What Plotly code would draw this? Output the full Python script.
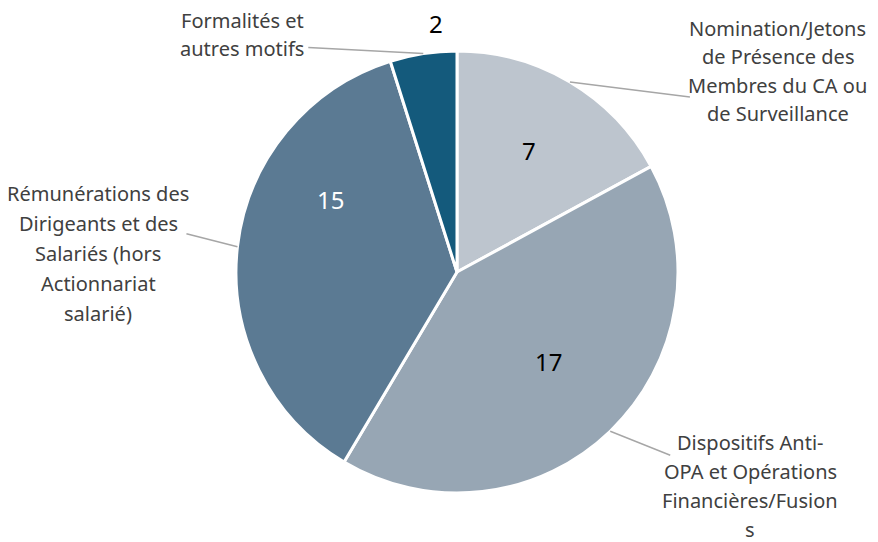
import math
import plotly.graph_objects as go

categories = [
    "Nomination/Jetons de Présence des Membres du CA ou de Surveillance",
    "Dispositifs Anti-OPA et Opérations Financières/Fusions",
    "Rémunérations des Dirigeants et des Salariés (hors Actionnariat salarié)",
    "Formalités et autres motifs",
]
values = [7, 17, 15, 2]
label_lines = [
    ["Nomination/Jetons", "de Présence des", "Membres du CA ou", "de Surveillance"],
    ["Dispositifs Anti-", "OPA et Opérations", "Financières/Fusion", "s"],
    ["Rémunérations des", "Dirigeants et des", "Salariés (hors", "Actionnariat", "salarié)"],
    ["Formalités et", "autres motifs"],
]
colors = ["#BDC5CE", "#97A6B4", "#5B7A93", "#145A7C"]
value_colors = ["#000000", "#000000", "#FFFFFF", "#000000"]

W, H = 878, 542
OFF = 8  # page body margin compensation
FONT = "Noto Sans"
# reference pixel geometry of the pie
pie_left, pie_right, pie_top, pie_bottom = 236 - OFF, 678 - OFF, 51 - OFF, 493 - OFF
dom_x = [pie_left / W, pie_right / W]
dom_y = [(H - pie_bottom) / H, (H - pie_top) / H]
cx = (dom_x[0] + dom_x[1]) / 2 * W
cy = H - (dom_y[0] + dom_y[1]) / 2 * H
R = min((dom_x[1] - dom_x[0]) * W, (dom_y[1] - dom_y[0]) * H) / 2

fig = go.Figure(go.Pie(
    labels=categories, values=values, sort=False, direction="clockwise", rotation=0,
    marker=dict(colors=colors, line=dict(color="white", width=3)),
    textinfo="none", hoverinfo="label+value", showlegend=False,
    domain=dict(x=dom_x, y=dom_y),
))

total = sum(values)
mids = []
acc = 0
for v in values:
    mids.append((acc + v / 2) / total * 360)
    acc += v

def pt(angle, r):
    a = math.radians(angle)
    return cx + r * math.sin(a), cy - r * math.cos(a)

def px(x, y):
    return x / W, 1 - y / H

# value labels: (angle offset, radius factor) style placement
val_place = [(0, 0.64), (-1.5, 0.58), (23, 0.66), (4, 1.13)]
annotations = []
for i, v in enumerate(values):
    da, rf = val_place[i]
    x, y = pt(mids[i] + da, R * rf)
    xx, yy = px(x, y)
    annotations.append(dict(x=xx, y=yy, xref="paper", yref="paper", text=str(v), showarrow=False,
                            font=dict(family=FONT, size=24, color=value_colors[i]),
                            xanchor="center", yanchor="middle"))

# leader lines and category labels (styling offsets in pixels)
leader = [  # (end dx, end dy from edge point, text center x offset from end, first line y offset)
    (120, 15, 88, -69),
    (60, 24, 80, -13),
    (-51, -13, -88, -40),
    (-115, -6, -66, -27),
]
line_h = [28.5, 29, 30, 28]
shapes = []
for i in range(len(values)):
    sx, sy = pt(mids[i], R)
    ex, ey = sx + leader[i][0], sy + leader[i][1]
    x0, y0 = px(sx, sy)
    x1, y1 = px(ex, ey)
    shapes.append(dict(type="line", xref="paper", yref="paper", x0=x0, y0=y0, x1=x1, y1=y1,
                       line=dict(color="#A6A6A6", width=1.5)))
    tx = ex + leader[i][2]
    ty0 = ey + leader[i][3]
    for j, ln in enumerate(label_lines[i]):
        xx, yy = px(tx, ty0 + j * line_h[i])
        annotations.append(dict(x=xx, y=yy, xref="paper", yref="paper", text=ln, showarrow=False,
                                font=dict(family=FONT, size=20, color="#404040"),
                                xanchor="center", yanchor="middle"))

fig.update_layout(
    width=W, height=H, margin=dict(l=0, r=0, t=0, b=0),
    paper_bgcolor="white", plot_bgcolor="white",
    annotations=annotations, shapes=shapes,
)
fig.write_html("out.html")
